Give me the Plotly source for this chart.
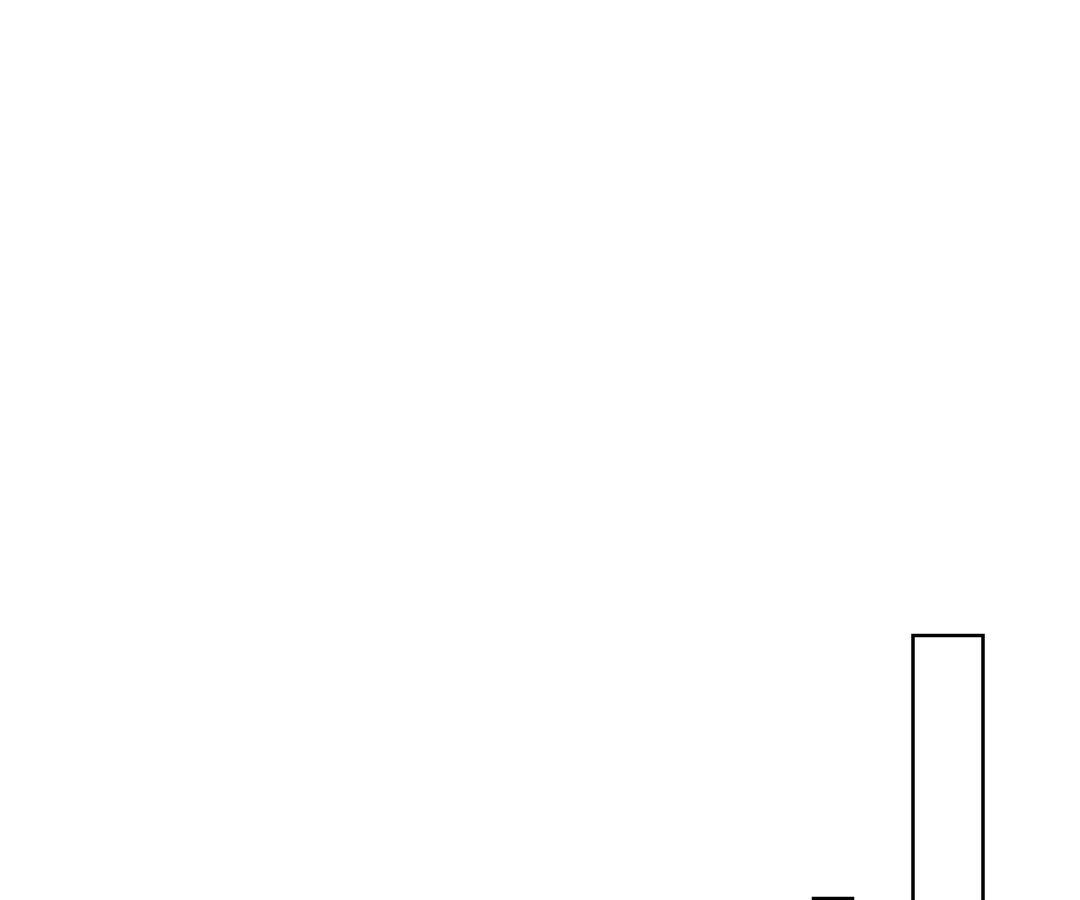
import plotly.graph_objects as go

x_pos = [8.25, 9.40]
bar_widths = [0.39, 0.70]
values = [10.95, 37.25]

fig = go.Figure(
    go.Bar(
        x=x_pos,
        y=values,
        width=bar_widths,
        marker=dict(color="white", line=dict(color="black", width=3.5)),
        showlegend=False,
    )
)
fig.update_layout(
    width=1070,
    height=1100,
    margin=dict(l=0, r=0, t=0, b=100),
    paper_bgcolor="white",
    plot_bgcolor="white",
    xaxis=dict(range=[0, 10.7], visible=False),
    yaxis=dict(range=[0, 100], visible=False),
    shapes=[
        dict(type="line", xref="paper", yref="paper", x0=0.9992, x1=0.9992, y0=-0.1, y1=1,
             line=dict(color="#dcdcdc", width=1.5))
    ],
)
fig.write_html("out.html")
